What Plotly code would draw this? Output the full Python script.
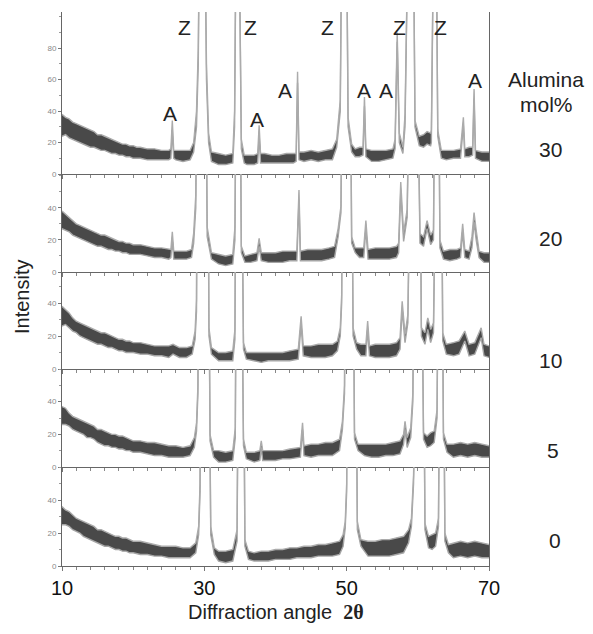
import plotly.graph_objects as go

# ---------------- data ----------------
# each point: (2-theta angle, lower edge of noise band, upper edge of noise band)
P30 = [
    (10.0, 24, 38), (10.5, 25, 36), (11.0, 23, 35), (11.5, 22, 33), (12.0, 21, 32), (12.5, 20, 31),
    (13.0, 19, 30), (13.5, 18, 29), (14.0, 17, 28), (14.5, 17, 27), (15.0, 16, 25), (15.5, 15, 25),
    (16.0, 15, 24), (16.5, 14, 23), (17.0, 13, 22), (17.5, 13, 21), (18.0, 12, 20), (18.5, 12, 19),
    (19.0, 11, 19), (19.5, 11, 18), (20.0, 10, 18), (20.5, 10, 17), (21.0, 10, 17), (22.0, 9, 16),
    (23.0, 9, 16), (24.0, 9, 15), (25.0, 9, 15), (25.3, 10, 16), (25.5, 28, 34), (25.7, 10, 15),
    (26.0, 9, 15), (27.0, 8, 15), (28.0, 9, 15), (28.5, 14, 20), (28.9, 30, 40), (29.15, 70, 80),
    (29.3, 150, 150), (30.1, 150, 150), (30.3, 60, 70), (30.6, 20, 26), (31.0, 8, 14),
    (32.0, 6, 13), (33.0, 6, 12), (34.0, 7, 13), (34.25, 30, 40), (34.45, 150, 150), (34.9, 150, 150),
    (35.2, 16, 22), (35.6, 7, 12), (36.0, 6, 12), (37.0, 6, 12), (37.5, 7, 13), (37.7, 25, 31),
    (37.9, 7, 13), (38.5, 7, 13), (39.5, 7, 12), (40.5, 7, 12), (41.5, 7, 13), (42.5, 7, 13),
    (42.9, 8, 13), (43.1, 58, 65), (43.3, 9, 14), (44.0, 8, 14), (45.0, 9, 15), (46.0, 8, 14),
    (47.0, 9, 15), (48.0, 9, 16), (48.6, 17, 22), (49.1, 40, 47), (49.3, 150, 150), (50.0, 150, 150),
    (50.2, 30, 36), (50.7, 14, 19), (51.2, 11, 16), (51.8, 11, 17), (52.3, 12, 17), (52.5, 43, 49),
    (52.7, 11, 16), (53.5, 8, 15), (54.5, 8, 15), (55.5, 9, 15), (56.5, 10, 16), (56.8, 16, 22),
    (57.1, 84, 90), (57.4, 20, 26), (57.9, 13, 17), (58.2, 30, 38), (58.6, 150, 150), (59.4, 150, 150),
    (59.6, 30, 34), (60.2, 18, 24), (60.8, 17, 25), (61.3, 19, 27), (61.8, 18, 26), (61.9, 20, 28),
    (62.2, 150, 150), (62.6, 150, 150), (62.8, 24, 28), (63.3, 10, 15), (64.0, 9, 15), (65.0, 10, 15),
    (66.0, 10, 16), (66.4, 31, 36), (66.6, 11, 16), (67.2, 11, 17), (67.7, 12, 17), (67.9, 48, 54),
    (68.1, 10, 15), (69.0, 8, 14), (70.0, 8, 14),
]
P20 = [
    (10.0, 27, 38), (10.5, 26, 36), (11.0, 25, 34), (11.5, 23, 32), (12.0, 22, 30), (12.5, 21, 29),
    (13.0, 20, 28), (13.5, 19, 27), (14.0, 18, 26), (14.5, 17, 25), (15.0, 16, 24), (15.5, 16, 23),
    (16.0, 15, 23), (16.5, 14, 22), (17.0, 14, 21), (17.5, 13, 20), (18.0, 13, 19), (18.5, 12, 19),
    (19.0, 12, 18), (19.5, 11, 18), (20.0, 11, 17), (21.0, 11, 17), (22.0, 10, 16), (23.0, 9, 15),
    (24.0, 9, 15), (25.0, 8, 14), (25.3, 9, 14), (25.5, 20, 25), (25.7, 8, 13), (26.5, 8, 13),
    (27.5, 8, 13), (28.2, 9, 14), (28.5, 18, 24), (28.8, 40, 48), (29.0, 150, 150), (30.2, 150, 150),
    (30.4, 22, 28), (31.0, 8, 12), (32.0, 5, 11), (33.0, 4, 10), (34.0, 5, 11), (34.3, 20, 28),
    (34.5, 150, 150), (35.0, 150, 150), (35.2, 12, 16), (35.7, 6, 10), (36.5, 6, 11), (37.4, 7, 12),
    (37.7, 16, 21), (38.0, 7, 12), (39.0, 6, 12), (40.0, 6, 12), (41.0, 6, 13), (42.0, 7, 13),
    (43.0, 7, 13), (43.3, 45, 51), (43.5, 7, 13), (44.5, 7, 14), (45.5, 7, 14), (46.5, 7, 14),
    (47.5, 8, 15), (48.3, 9, 16), (48.8, 22, 27), (49.2, 37, 41), (49.4, 150, 150), (50.5, 150, 150),
    (50.7, 18, 22), (51.2, 12, 15), (51.8, 9, 15), (52.4, 9, 15), (52.7, 27, 32), (53.0, 8, 14),
    (54.0, 8, 15), (55.0, 8, 15), (56.0, 8, 15), (57.0, 9, 16), (57.3, 12, 18), (57.6, 50, 56),
    (58.0, 19, 24), (58.5, 34, 39), (58.9, 150, 150), (59.9, 150, 150), (60.3, 18, 24), (60.8, 16, 22),
    (61.3, 27, 32), (61.8, 17, 23), (62.2, 20, 26), (62.4, 150, 150), (62.9, 150, 150), (63.1, 15, 20),
    (63.6, 8, 13), (64.5, 7, 14), (65.5, 8, 14), (66.0, 9, 15), (66.3, 25, 30), (66.6, 9, 14),
    (67.2, 8, 13), (67.6, 15, 22), (67.9, 31, 37), (68.2, 20, 26), (68.6, 9, 13), (69.3, 6, 12),
    (70.0, 6, 12),
]
P10 = [
    (10.0, 26, 38), (10.5, 27, 36), (11.0, 25, 34), (11.5, 23, 31), (12.0, 22, 29), (12.5, 20, 28),
    (13.0, 19, 27), (13.5, 18, 26), (14.0, 17, 25), (14.5, 16, 24), (15.0, 15, 23), (15.5, 15, 22),
    (16.0, 14, 22), (16.5, 13, 21), (17.0, 13, 20), (17.5, 12, 19), (18.0, 11, 18), (18.5, 11, 18),
    (19.0, 10, 17), (19.5, 10, 17), (20.0, 10, 16), (21.0, 9, 16), (22.0, 9, 15), (23.0, 8, 14),
    (24.0, 8, 14), (25.0, 7, 14), (25.6, 9, 15), (26.5, 7, 13), (27.5, 7, 13), (28.3, 9, 14),
    (28.7, 18, 23), (28.9, 35, 42), (29.0, 150, 150), (30.5, 150, 150), (30.65, 20, 25), (31.0, 9, 13),
    (32.0, 5, 10), (33.0, 5, 10), (34.0, 5, 11), (34.3, 18, 24), (34.45, 150, 150), (35.2, 150, 150),
    (35.5, 12, 16), (35.9, 6, 10), (37.0, 5, 10), (38.0, 4, 10), (39.0, 5, 10), (40.0, 5, 10),
    (41.0, 5, 10), (42.0, 5, 11), (43.2, 6, 12), (43.6, 27, 32), (43.9, 8, 14), (45.0, 7, 14),
    (46.0, 7, 15), (47.0, 7, 15), (48.0, 8, 15), (48.7, 11, 17), (49.1, 20, 25), (49.3, 40, 45),
    (49.4, 150, 150), (50.7, 150, 150), (50.9, 20, 25), (51.4, 12, 16), (52.0, 8, 15), (52.7, 8, 15),
    (52.95, 24, 29), (53.2, 8, 14), (54.0, 7, 15), (55.0, 7, 15), (56.0, 7, 15), (57.0, 8, 16),
    (57.5, 12, 19), (57.8, 36, 41), (58.2, 16, 21), (58.6, 28, 33), (59.0, 150, 150), (60.3, 150, 150),
    (60.5, 20, 25), (61.0, 15, 22), (61.4, 24, 31), (61.8, 16, 24), (62.2, 22, 28), (62.6, 150, 150),
    (63.3, 150, 150), (63.5, 17, 22), (64.0, 9, 15), (65.0, 8, 16), (65.8, 9, 17), (66.6, 17, 23),
    (67.2, 8, 15), (68.0, 9, 16), (68.9, 19, 25), (69.3, 8, 15), (70.0, 7, 14),
]
P5 = [
    (10.0, 26, 37), (10.5, 26, 36), (11.0, 25, 33), (11.5, 23, 31), (12.0, 22, 30), (12.5, 21, 29),
    (13.0, 20, 28), (13.5, 18, 27), (14.0, 18, 26), (14.5, 17, 25), (15.0, 15, 23), (15.5, 14, 23),
    (16.0, 13, 22), (16.5, 13, 21), (17.0, 12, 20), (17.5, 12, 20), (18.0, 11, 19), (18.5, 11, 19),
    (19.0, 10, 18), (19.5, 10, 17), (20.0, 9, 16), (21.0, 9, 16), (22.0, 8, 15), (23.0, 7, 15),
    (24.0, 7, 14), (25.0, 6, 13), (26.0, 6, 13), (27.0, 6, 12), (28.0, 7, 13), (28.6, 12, 18),
    (28.9, 22, 27), (29.1, 45, 50), (29.2, 150, 150), (30.6, 150, 150), (30.8, 16, 20), (31.3, 6, 10),
    (32.0, 3, 10), (33.0, 3, 9), (34.0, 4, 10), (34.35, 18, 24), (34.5, 150, 150), (35.2, 150, 150),
    (35.5, 13, 17), (35.9, 5, 9), (37.0, 3, 9), (37.8, 4, 10), (38.0, 12, 16), (38.2, 4, 10),
    (39.0, 4, 10), (40.0, 4, 10), (41.0, 5, 10), (42.0, 5, 11), (43.5, 6, 12), (43.8, 23, 27),
    (44.0, 7, 13), (45.0, 6, 14), (46.0, 7, 14), (47.0, 7, 15), (48.0, 7, 15), (49.0, 10, 17),
    (49.4, 23, 28), (49.7, 45, 50), (49.8, 150, 150), (50.9, 150, 150), (51.1, 17, 21), (51.6, 10, 14),
    (52.5, 7, 14), (53.5, 6, 14), (54.5, 6, 14), (55.5, 7, 14), (56.5, 7, 15), (57.5, 8, 16),
    (58.0, 14, 20), (58.2, 23, 28), (58.5, 12, 18), (59.0, 18, 24), (59.3, 40, 45), (59.5, 150, 150),
    (60.5, 150, 150), (60.8, 17, 21), (61.3, 12, 19), (61.8, 13, 21), (62.3, 15, 22), (62.7, 30, 35),
    (62.9, 150, 150), (63.4, 150, 150), (63.6, 17, 21), (64.1, 9, 14), (65.0, 6, 14), (66.0, 7, 15),
    (67.0, 6, 14), (68.0, 7, 15), (69.0, 6, 14), (70.0, 6, 13),
]
P0 = [
    (10.0, 25, 36), (10.5, 25, 34), (11.0, 24, 33), (11.5, 22, 31), (12.0, 21, 29), (12.5, 20, 28),
    (13.0, 18, 27), (13.5, 17, 26), (14.0, 16, 25), (14.5, 15, 24), (15.0, 14, 22), (15.5, 13, 22),
    (16.0, 12, 21), (16.5, 12, 20), (17.0, 11, 19), (17.5, 10, 18), (18.0, 10, 18), (18.5, 9, 17),
    (19.0, 9, 17), (19.5, 8, 16), (20.0, 8, 15), (21.0, 7, 15), (22.0, 7, 14), (23.0, 6, 13),
    (24.0, 6, 12), (25.0, 5, 12), (26.0, 5, 12), (27.0, 5, 11), (28.0, 5, 11), (28.8, 8, 14),
    (29.2, 19, 24), (29.4, 45, 50), (29.5, 150, 150), (30.65, 150, 150), (30.9, 19, 24), (31.4, 7, 11),
    (32.0, 3, 9), (33.0, 2, 9), (34.0, 3, 10), (34.6, 15, 22), (34.8, 150, 150), (35.5, 150, 150),
    (35.7, 12, 16), (36.2, 4, 9), (37.0, 3, 8), (38.0, 3, 9), (39.0, 3, 9), (40.0, 4, 10),
    (41.0, 4, 10), (42.0, 4, 11), (43.0, 5, 11), (44.0, 5, 12), (45.0, 5, 12), (46.0, 6, 13),
    (47.0, 6, 13), (48.0, 6, 14), (49.0, 7, 15), (49.5, 12, 19), (49.8, 23, 27), (50.0, 45, 50),
    (50.1, 150, 150), (51.3, 150, 150), (51.5, 22, 27), (52.0, 12, 16), (53.0, 6, 15), (54.0, 6, 15),
    (55.0, 6, 16), (56.0, 6, 16), (57.0, 7, 17), (58.0, 8, 18), (58.7, 14, 22), (59.1, 24, 29),
    (59.4, 50, 55), (59.8, 150, 150), (60.8, 150, 150), (61.0, 22, 26), (61.5, 11, 18), (62.0, 10, 19),
    (62.5, 12, 20), (62.9, 24, 29), (63.1, 150, 150), (63.6, 150, 150), (63.8, 15, 20), (64.3, 8, 13),
    (65.0, 5, 14), (66.0, 6, 15), (67.0, 5, 14), (68.0, 6, 15), (69.0, 5, 14), (70.0, 5, 13),
]

ALUMINA_LEVELS = ["30", "20", "10", "5", "0"]
PROFILES = [P30, P20, P10, P5, P0]
Y_TOPS = [103, 61, 58.8, 60, 60]
Y_TICKS = [[0, 20, 40, 60, 80], [0, 20, 40], [0, 20, 40], [0, 20, 40], [0, 20, 40]]
X_TICKS = [10, 30, 50, 70]

PHASE_TEXT = ["Z", "Z", "Z", "Z", "Z", "A", "A", "A", "A", "A", "A"]
PHASE_ANGLE = [27.2, 36.5, 47.3, 57.4, 63.2, 25.2, 37.4, 41.4, 52.4, 55.5, 68.0]
PHASE_INT = [93.3, 93.3, 93.3, 93.3, 93.3, 38.7, 34.9, 53.3, 53.3, 53.3, 59.7]

# ---------------- layout geometry (pixels of the 593x634 page) ----------------
PAGE_OFF = 8                      # default body margin of the html page
W, H = 593 - PAGE_OFF, 634 - PAGE_OFF
X0, X1 = 62, 489
PANEL_PX = [(12, 174), (174, 272), (272, 369), (369, 467), (467, 566)]
FONT = "Liberation Sans, Arial, Helvetica, sans-serif"


def px_y(p):
    return 1 - (p - PAGE_OFF) / H


def px_x(p):
    return (p - PAGE_OFF) / W


fig = go.Figure()
layout = dict(
    width=W, height=H, margin=dict(l=0, r=0, t=0, b=0, autoexpand=False),
    paper_bgcolor="white", plot_bgcolor="white", showlegend=False,
    font=dict(family=FONT, color="#111"),
)

for i, prof in enumerate(PROFILES):
    k = "" if i == 0 else str(i + 1)
    ang = [p[0] for p in prof]
    low = [p[1] for p in prof]
    high = [p[2] for p in prof]
    fig.add_trace(go.Scatter(x=ang, y=low, mode="lines", xaxis="x" + k, yaxis="y" + k,
                             line=dict(color="#a5a5a5", width=1.4), hoverinfo="skip"))
    fig.add_trace(go.Scatter(x=ang, y=high, mode="lines", xaxis="x" + k, yaxis="y" + k,
                             fill="tonexty", fillcolor="#494949",
                             line=dict(color="#ababab", width=1.4), hoverinfo="skip"))
    top_px, bot_px = PANEL_PX[i]
    bottom = i == len(PROFILES) - 1
    layout["xaxis" + k] = dict(
        domain=[px_x(X0), px_x(X1)], range=[10, 70], anchor="y" + k, automargin=False,
        showline=True, linecolor="#666", linewidth=1, mirror=False,
        showgrid=False, zeroline=False,
        tickmode="array", tickvals=X_TICKS, ticks="outside", ticklen=4, tickcolor="#777",
        showticklabels=bottom, tickfont=dict(size=20, family=FONT, color="#111"),
        minor=dict(dtick=2, tick0=10, ticks="outside", ticklen=3, tickcolor="#888", showgrid=False),
    )
    layout["yaxis" + k] = dict(
        domain=[px_y(bot_px), px_y(top_px)], range=[0, Y_TOPS[i]], anchor="x" + k, automargin=False,
        showline=True, linecolor="#666", linewidth=1, mirror=True,
        showgrid=False, zeroline=False,
        tickmode="array", tickvals=Y_TICKS[i], ticks="outside", ticklen=3, tickcolor="#777",
        tickfont=dict(size=8, family=FONT, color="#888"),
        minor=dict(dtick=10, ticks="outside", ticklen=2, tickcolor="#999", showgrid=False),
    )

annotations = []
for t, a, v in zip(PHASE_TEXT, PHASE_ANGLE, PHASE_INT):
    annotations.append(dict(x=a, y=v, xref="x", yref="y", text=t, showarrow=False,
                            xanchor="center", yanchor="middle",
                            font=dict(size=21, family=FONT, color="#222")))


def paper_text(text, x, y, size=21, angle=0):
    annotations.append(dict(x=px_x(x), y=px_y(y), xref="paper", yref="paper", text=text,
                            textangle=angle, showarrow=False, xanchor="center", yanchor="middle",
                            font=dict(size=size, family=FONT, color="#222")))


paper_text("Intensity", 22, 297, size=20, angle=-90)
paper_text("Diffraction angle  <span style='font-family:Liberation Serif, Times New Roman, serif'><b>2θ</b></span>",
           276, 612, size=20)
paper_text("Alumina", 546, 80)
paper_text("mol%", 546, 104)
LEVEL_PX = [(550, 149), (550, 238), (550, 360), (553, 450), (555, 540)]
for lab, (lx, ly) in zip(ALUMINA_LEVELS, LEVEL_PX):
    paper_text(lab, lx, ly)

layout["annotations"] = annotations
fig.update_layout(**layout)
fig.write_html("out.html")
